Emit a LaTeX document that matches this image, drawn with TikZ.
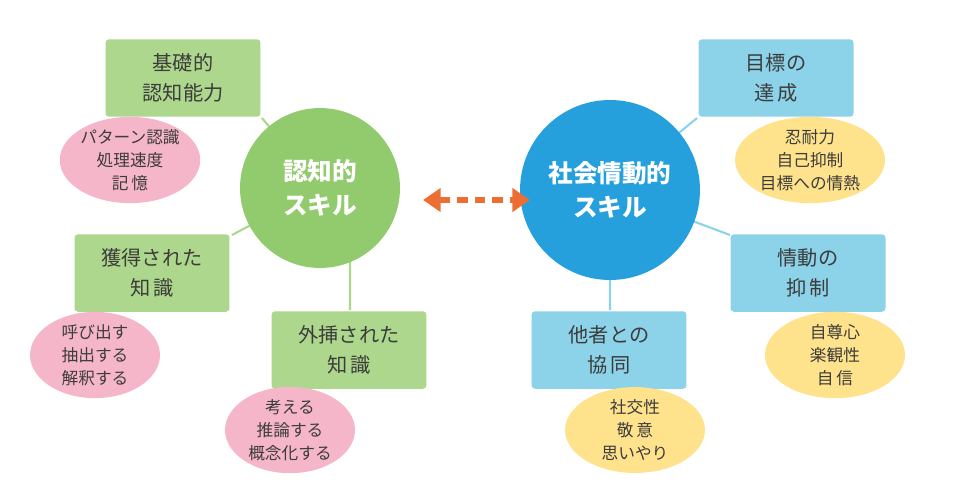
\documentclass[tikz,border=0pt]{standalone}
\usepackage{fontspec}
\setmainfont{Noto Sans CJK JP}
\usetikzlibrary{arrows.meta,shapes.geometric}
\definecolor{colG}{RGB}{146,202,110}
\definecolor{colB}{RGB}{38,160,220}
\definecolor{boxG}{RGB}{172,215,140}
\definecolor{boxB}{RGB}{140,210,232}
\definecolor{ellP}{RGB}{246,182,202}
\definecolor{ellY}{RGB}{255,226,140}
\definecolor{txt}{RGB}{60,60,60}
\definecolor{arr}{RGB}{236,110,50}
\tikzset{
  skill/.style={circle, align=center, text=white, font=\fontsize{14}{19}\selectfont\bfseries},
  box/.style={rounded corners=2pt, align=center, minimum width=3.1cm, minimum height=1.55cm, text=txt, font=\fontsize{11.5}{17}\selectfont},
  ell/.style={ellipse, align=center, text=txt, font=\fontsize{9.5}{13}\selectfont, inner sep=0pt},
  link/.style={line width=1.2pt}
}
\begin{document}
\begin{tikzpicture}[x=0.02cm,y=-0.02cm]
  \useasboundingbox (0,0) rectangle (955,487);
  % links
  \coordinate (cl) at (320,188);
  \coordinate (cr) at (610,190);
  \draw[link, boxG] (cl) -- (262,118) (cl) -- (232,235) (350,188) -- (350,310);
  \draw[link, boxB] (cr) -- (697,118) (cr) -- (730,235) (610,190) -- (610,310);
  % skills
  \node[skill, fill=colG, minimum size=3.2cm] (ninchi) at (cl) {認知的\\スキル};
  \node[skill, fill=colB, minimum size=3.6cm] (shakai) at (cr) {社会情動的\\スキル};
  \coordinate (a1) at (423,200);
  \coordinate (a2) at (530,200);
  \draw[arr, line width=3pt, dash pattern=on 6pt off 4pt, {Triangle[width=13pt,length=10pt]}-{Triangle[width=13pt,length=10pt]}] (a1) -- (a2);
  % cognitive boxes
  \node[box, fill=boxG] (kiso) at (183,78) {基礎的\\認知能力};
  \node[box, fill=boxG] (kakutoku) at (152,273) {獲得された\\知\,識};
  \node[box, fill=boxG] (gaiso) at (349,350) {外挿された\\知\,識};
  \node[ell, fill=ellP, minimum width=2.7cm, minimum height=1.5cm] (e1) at (130,160) {パターン認識\\処理速度\\記\,憶};
  \node[ell, fill=ellP, minimum width=2.6cm, minimum height=1.6cm] (e2) at (95,355) {呼び出す\\抽出する\\解釈する};
  \node[ell, fill=ellP, minimum width=2.6cm, minimum height=1.7cm] (e3) at (290,430) {考える\\推論する\\概念化する};
  % socio-emotional boxes
  \node[box, fill=boxB] (mokuhyo) at (776,78) {目標の\\達\,成};
  \node[box, fill=boxB] (jodo) at (808,273) {情動の\\抑\,制};
  \node[box, fill=boxB] (tasha) at (609,350) {他者との\\協\,同};
  \node[ell, fill=ellY, minimum width=3.0cm, minimum height=1.6cm] (e4) at (810,160) {忍耐力\\自己抑制\\目標への情熱};
  \node[ell, fill=ellY, minimum width=2.8cm, minimum height=1.7cm] (e5) at (835,355) {自尊心\\楽観性\\自\,信};
  \node[ell, fill=ellY, minimum width=2.8cm, minimum height=1.7cm] (e6) at (635,430) {社交性\\敬\,意\\思いやり};
\end{tikzpicture}
\end{document}
